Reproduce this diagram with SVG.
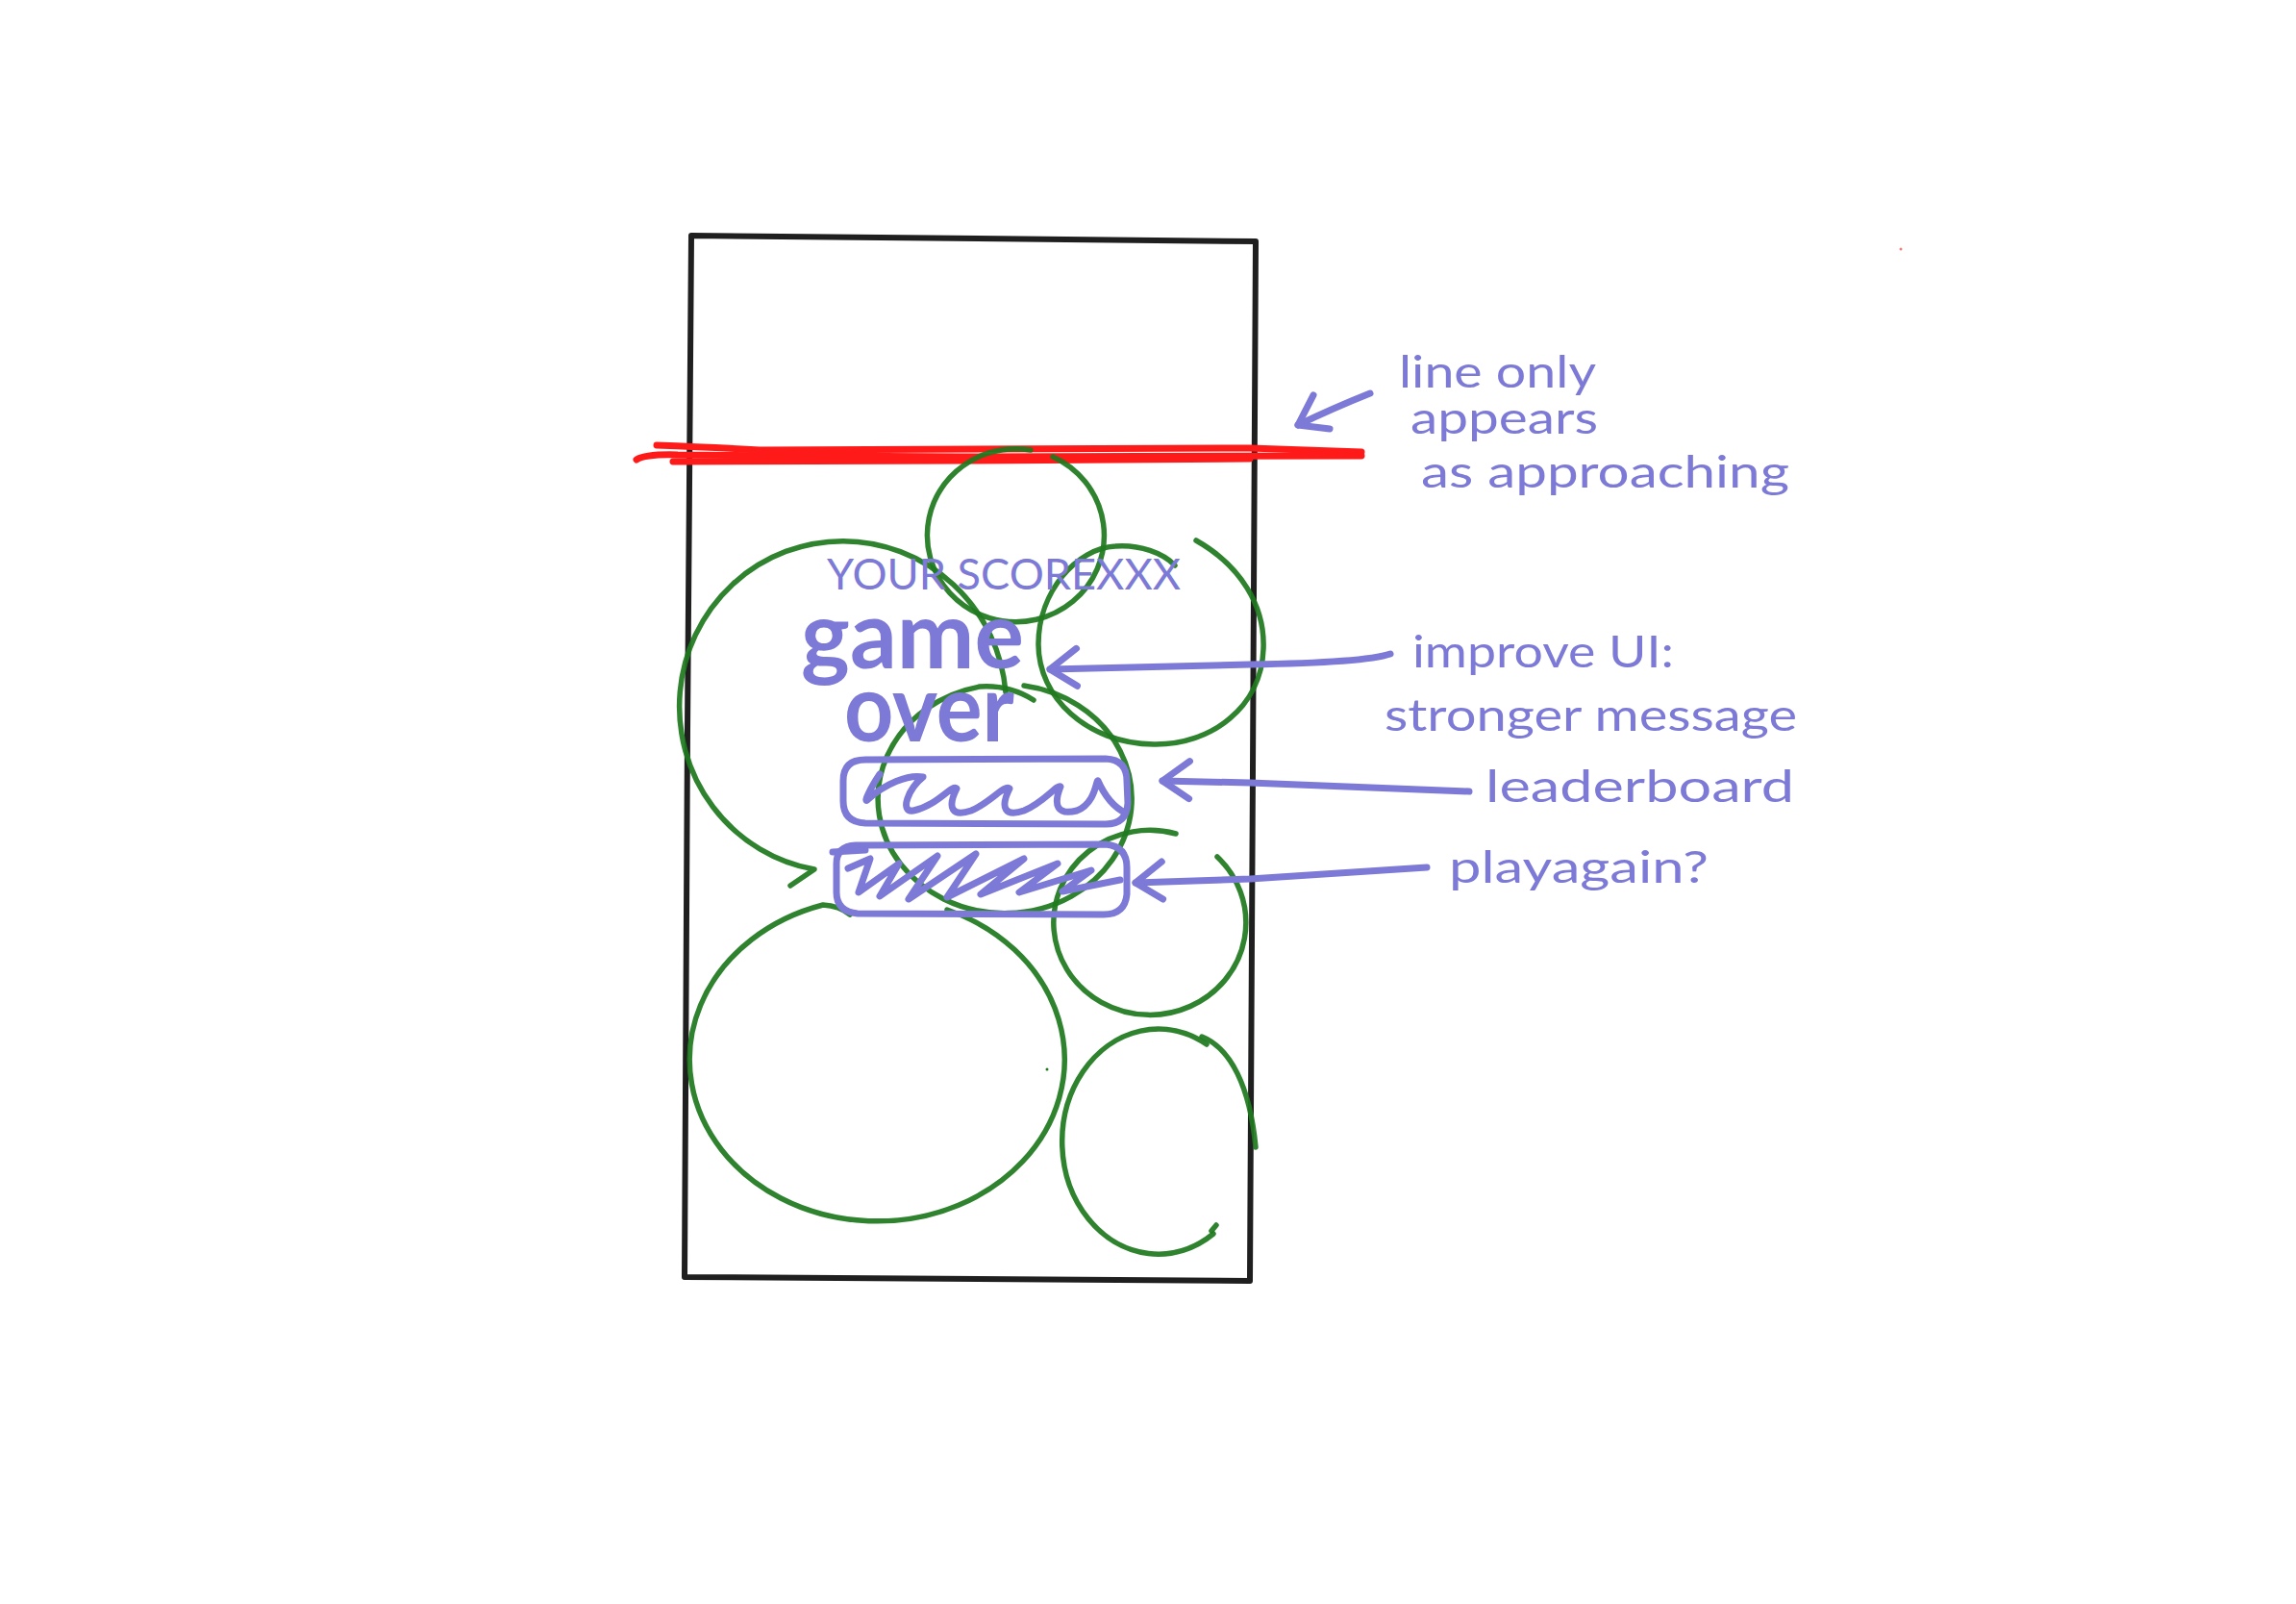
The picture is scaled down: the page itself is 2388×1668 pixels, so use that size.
<svg xmlns="http://www.w3.org/2000/svg" width="2388" height="1668" viewBox="0 0 2388 1668">
<style>
.frame{fill:none;stroke:#1f1f1f;stroke-width:6;stroke-linejoin:round;stroke-linecap:round}
.r{fill:none;stroke:#ff1a1a;stroke-width:7;stroke-linecap:round;stroke-linejoin:round}
.g{fill:none;stroke:#1f7a1f;stroke-width:5.5;stroke-linecap:round;stroke-linejoin:round;opacity:.93}
.p{fill:none;stroke:#7c7ad6;stroke-width:7;stroke-linecap:round;stroke-linejoin:round}
.t{font-family:"Lato","Open Sans","Liberation Sans",sans-serif;fill:#7c7ad6;font-size:46px}
.big{font-weight:700;font-size:98px}
.caps{font-size:44px}
</style>
<defs>
<marker id="ah" markerUnits="userSpaceOnUse" viewBox="-10 -30 50 60" refX="0" refY="0" markerWidth="50" markerHeight="60" orient="auto" overflow="visible">
<path class="p" d="M28,-21 L0,0 L28,18"/>
</marker>
</defs>
<rect width="2388" height="1668" fill="#ffffff"/>

<g id="phone-frame">
<path class="frame" d="M719,245 L1306,251 L1303,800 L1300,1332 L712,1328 L715,760 Z"/>
</g>

<g id="red-line">
<path class="r" d="M683,463 Q740,465 790,468 L1300,466 L1416,470"/>
<path class="r" d="M662,478 Q672,472 705,473 L1000,475 L1416,474"/>
<path class="r" d="M700,480 L1000,479 L1300,477"/>
</g>

<g id="circles">
<g id="circle-1"><path class="g" d="M1095,475 A92,90 0 1 1 1072,468"/></g>
<g id="circle-2"><path class="g" d="M1046,720 A170,172 0 1 0 847,904 L822,921"/></g>
<g id="circle-3"><path class="g" d="M1244,562 C1290,588 1316,630 1314,675 C1312,735 1260,775 1200,774 C1130,773 1080,725 1080,670 C1080,615 1120,570 1160,568 C1185,566 1210,575 1222,588"/></g>
<g id="circle-4"><path class="g" d="M1065,713 A132,119 0 1 1 1019,714 Q1050,712 1075,728"/></g>
<g id="circle-5"><path class="g" d="M1223,867 A100,96 0 1 0 1266,891"/></g>
<g id="circle-6"><path class="g" d="M884,951 Q873,942 856,941 A195,168 0 1 0 985,946"/></g>
<g id="circle-7"><path class="g" d="M1255,1086 A100,117 0 1 0 1262,1283"/><path class="g" d="M1260,1280 L1265,1274"/><path class="g" d="M1250,1078 C1280,1090 1300,1130 1306,1193"/></g>
<circle cx="1089" cy="1112" r="1.5" fill="#1f7a1f"/>
</g>

<g id="screen-ui">
<g id="score-label"><text class="t caps" x="860" y="613" textLength="368" lengthAdjust="spacingAndGlyphs">YOUR SCOREXXX</text></g>
<g id="game-over">
<text class="t big" x="833" y="695" textLength="232" lengthAdjust="spacingAndGlyphs">game</text>
<text class="t big" x="878" y="771" textLength="177" lengthAdjust="spacingAndGlyphs">over</text>
</g>
<g id="leaderboard-box">
<path class="p" d="M900,790 L1150,789 Q1172,790 1172,812 L1173,835 Q1172,857 1150,857 L900,856 Q877,855 877,833 L877,812 Q877,790 900,790 Z"/>
<path class="p" d="M915,805 C905,820 898,835 902,832 C920,815 945,805 960,808 C945,820 935,845 950,843 C975,838 990,815 995,820 C985,840 990,850 1010,843 C1030,835 1045,815 1050,820 C1040,840 1045,850 1065,843 C1085,835 1100,815 1103,818 C1095,838 1100,848 1120,843 C1140,835 1140,810 1142,812 C1150,830 1160,840 1170,845"/>
</g>
<g id="play-again-box">
<path class="p" d="M890,879 L1150,878 Q1172,880 1172,902 L1172,930 Q1170,951 1148,951 L892,950 Q870,948 870,928 L870,898 Q870,880 890,879 Z"/>
<path class="p" d="M866,886 L900,884"/>
<path class="p" d="M882,903 L905,893 L893,928 L935,898 L915,932 L975,890 L945,935 L1015,888 L985,933 L1065,893 L1020,930 L1100,898 L1060,928 L1135,905 L1105,927 L1165,915"/>
</g>
</g>

<g id="connectors">
<path class="p" marker-start="url(#ah)" d="M1350,442 Q1385,425 1425,409"/>
<path class="p" marker-start="url(#ah)" d="M1092,696 L1300,691 Q1420,689 1446,680"/>
<path class="p" marker-start="url(#ah)" d="M1209,812 L1300,814 L1528,823"/>
<path class="p" marker-start="url(#ah)" d="M1181,918 L1300,914 L1484,902"/>
</g>

<g id="annotations">
<g id="note-line"><text class="t" x="1455" y="403" textLength="205" lengthAdjust="spacingAndGlyphs">line only</text>
<text class="t" x="1467" y="451" textLength="195" lengthAdjust="spacingAndGlyphs">appears</text>
<text class="t" x="1478" y="507" textLength="383" lengthAdjust="spacingAndGlyphs">as approaching</text></g>
<g id="note-ui"><text class="t" x="1469" y="694" textLength="272" lengthAdjust="spacingAndGlyphs">improve UI:</text>
<text class="t" x="1440" y="760" textLength="429" lengthAdjust="spacingAndGlyphs">stronger message</text></g>
<g id="note-leaderboard"><text class="t" x="1545" y="834" textLength="321" lengthAdjust="spacingAndGlyphs">leaderboard</text></g>
<g id="note-playagain"><text class="t" x="1507" y="918" textLength="270" lengthAdjust="spacingAndGlyphs">playagain?</text></g>
</g>
<circle cx="1977" cy="259" r="1.5" fill="#f08080"/>
</svg>
